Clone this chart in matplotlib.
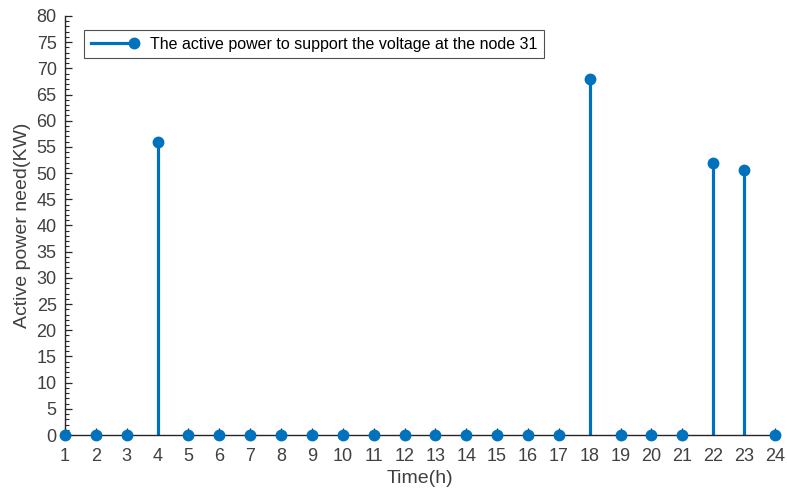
import matplotlib
matplotlib.use('Agg')
import matplotlib.pyplot as plt
from matplotlib.ticker import MultipleLocator
from matplotlib.lines import Line2D

plt.rcParams['font.family'] = ['Liberation Sans', 'DejaVu Sans']

# Data
hours = list(range(1, 25))
power = [0, 0, 0, 56, 0, 0, 0, 0, 0, 0, 0, 0,
         0, 0, 0, 0, 0, 68, 0, 0, 0, 52, 50.5, 0]
label = 'The active power to support the voltage at the node 31'

blue = '#0072BD'
grey = '#404040'

fig = plt.figure(figsize=(7.87, 4.93), dpi=100)
ax = fig.add_axes([0.0826, 0.1176, 0.902, 0.85])

markers, stems, base = ax.stem(hours, power, basefmt=' ')
plt.setp(stems, color=blue, linewidth=2.3)
plt.setp(markers, color=blue, markersize=7.5, zorder=4, clip_on=False)

ax.set_xlim(1, 24)
ax.set_ylim(0, 80)
ax.set_xticks(hours)
ax.yaxis.set_major_locator(MultipleLocator(5))
ax.yaxis.set_minor_locator(MultipleLocator(1))

for s in ['top', 'right']:
    ax.spines[s].set_visible(False)
for s in ['left', 'bottom']:
    ax.spines[s].set_color('#262626')
    ax.spines[s].set_linewidth(1.0)

ax.tick_params(axis='both', which='major', direction='in', length=5,
               labelsize=13, labelcolor=grey, color='#262626', width=0.9)
ax.tick_params(axis='y', which='minor', direction='in', length=3,
               color='#262626', width=0.8)
ax.tick_params(axis='x', pad=9)
ax.tick_params(axis='y', pad=6)

ax.set_xlabel('Time(h)', fontsize=14, color=grey, labelpad=4)
ax.set_ylabel('Active power need(KW)', fontsize=14, color=grey, labelpad=4)

handle = Line2D([0], [0], color=blue, linewidth=2.3, marker='o', markersize=7.5)
leg = ax.legend([handle], [label], loc='upper left', bbox_to_anchor=(0.016, 0.985),
                fontsize=11.5, frameon=True, fancybox=False, edgecolor='#262626',
                handlelength=2.7, borderpad=0.4, handletextpad=1.0)
leg.get_frame().set_linewidth(0.8)
leg.get_lines()[0].set_markevery([2])

fig.savefig('out.png', dpi=100)
